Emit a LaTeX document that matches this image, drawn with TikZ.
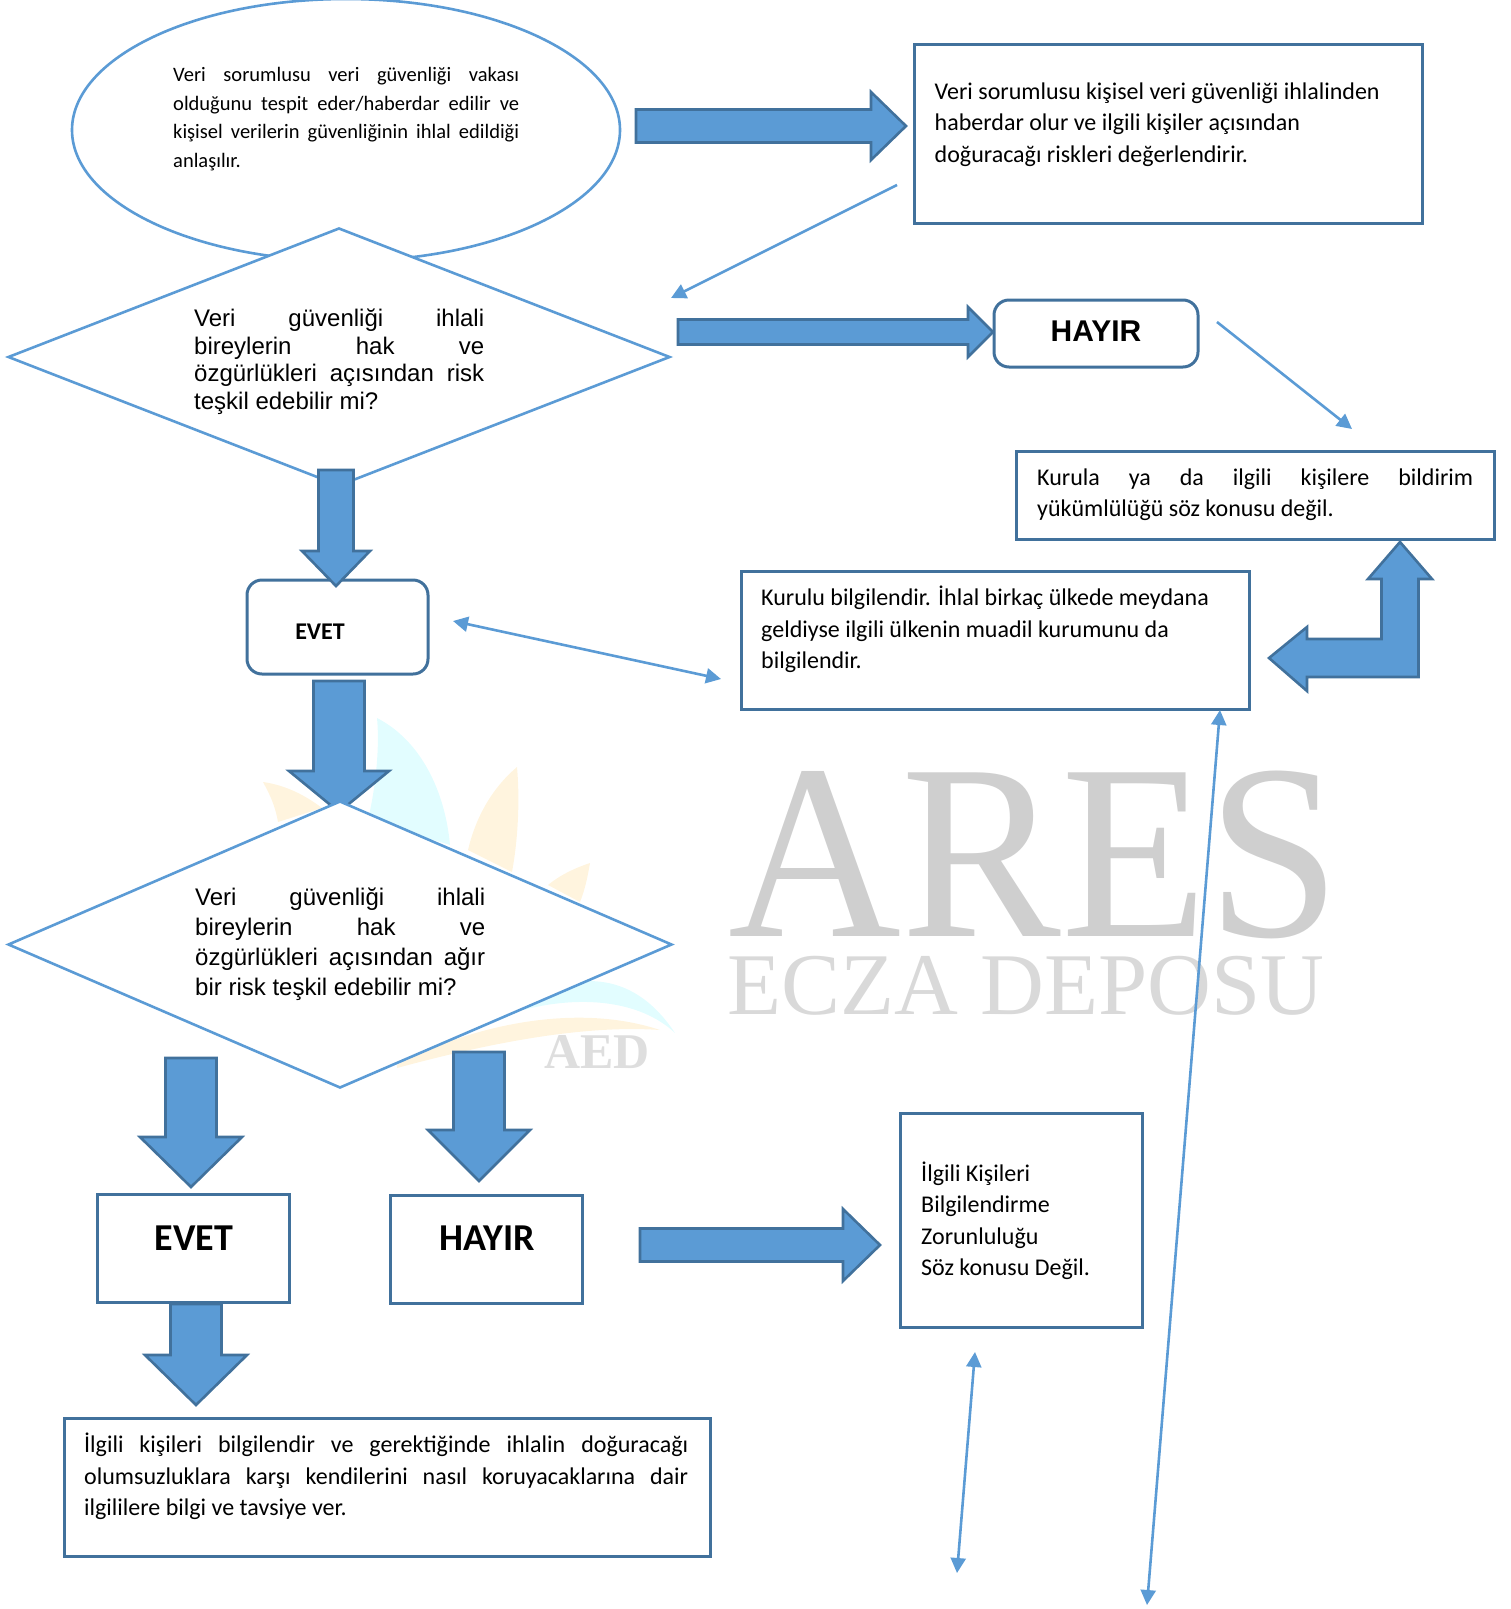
\documentclass[tikz,border=0pt]{standalone}
\usepackage{fontspec}
\setmainfont{Carlito}
\newfontfamily\arialfont{Liberation Sans}
\newfontfamily\serifwm{Liberation Serif}
\usetikzlibrary{shapes.geometric,arrows.meta,calc}

\definecolor{linelight}{HTML}{5B9BD5}
\definecolor{linedark}{HTML}{41719C}
\definecolor{petalcyan}{HTML}{E2FDFF}
\definecolor{petalorange}{HTML}{FFF4DE}

\tikzset{
    plainbox/.style={draw=linedark,line width=3pt,fill=white,inner sep=0pt,outer sep=0pt},
    softbox/.style={plainbox,rounded corners=15pt},
    decision/.style={diamond,draw=linelight,line width=2.6pt,fill=white,inner sep=0pt,outer sep=0pt},
    startnode/.style={ellipse,draw=linelight,line width=2.6pt,fill=white,inner sep=0pt,outer sep=0pt},
    bigarrow/.style={draw=linedark,line width=2.6pt,fill=linelight,line join=miter},
    thinline/.style={color=linelight,line width=2.6pt,>={Triangle[length=15pt,width=15pt]}},
    calibody/.style={anchor=north west,inner sep=0pt,align=left,font=\fontsize{24}{31.5}\selectfont},
    calijust/.style={calibody,align=justify},
    arialbody/.style={anchor=north west,inner sep=0pt,align=justify,font=\arialfont\fontsize{24}{27.5}\selectfont},
}

\newcommand{\blockarrow}[5]{
    \coordinate (base) at ($(#2)!#5!(#1)$);
    \draw[bigarrow] ($(#1)!#3!90:(#2)$) -- ($(base)!#3!90:(#2)$) -- ($(base)!#4!90:(#2)$) -- (#2)
        -- ($(base)!#4!-90:(#2)$) -- ($(base)!#3!-90:(#2)$) -- ($(#1)!#3!-90:(#2)$) -- cycle;
}

\tolerance=10000
\hyphenpenalty=10000

\begin{document}
\begin{tikzpicture}[x=1pt,y=-1pt]
    \useasboundingbox (0,0) rectangle (1510,1609);

    % watermark
    \node[inner sep=0pt,text=black!19,xscale=0.958,font=\serifwm\fontsize{250}{250}\selectfont] at (1034.5,855) (wmares) {ARES};
    \node[inner sep=0pt,text=black!15,xscale=1.005,font=\serifwm\fontsize{88}{88}\selectfont] at (1026,986) (wmecza) {ECZA DEPOSU};
    \fill[petalcyan] (377,718) .. controls (420,740) and (445,790) .. (450,845) -- (368,820) .. controls (375,790) and (380,750) .. (377,718) -- cycle;
    \fill[petalorange] (263,782) .. controls (285,785) and (305,795) .. (322,808) -- (278,822) .. controls (275,805) and (270,795) .. (263,782) -- cycle;
    \fill[petalorange] (517,767) .. controls (490,790) and (475,820) .. (468,850) -- (512,872) .. controls (518,840) and (520,800) .. (517,767) -- cycle;
    \fill[petalorange] (590,863) .. controls (575,868) and (560,875) .. (548,885) -- (580,902) .. controls (585,890) and (588,875) .. (590,863) -- cycle;
    \fill[petalcyan] (523,1000) .. controls (570,975) and (630,965) .. (675,1033) .. controls (640,1000) and (580,995) .. (523,1010) -- cycle;
    \fill[petalorange] (397,1065) .. controls (460,1030) and (570,1000) .. (660,1030) .. controls (590,1025) and (500,1040) .. (397,1068) -- cycle;
    \node[inner sep=0pt,text=black!13,font=\serifwm\bfseries\fontsize{50}{50}\selectfont] at (597,1052) (wmaed) {AED};

    % shapes
    \node[startnode,minimum width=548,minimum height=262] at (346,130) (start) {};
    \node[decision,minimum width=661,minimum height=257,aspect=2.57] at (339,357) (riskq) {};
    \node[plainbox,minimum width=508,minimum height=179.5] at (1168.5,134) (assess) {};
    \node[softbox,minimum width=204,minimum height=67] at (1096,333.5) (hayira) {};
    \node[plainbox,minimum width=478,minimum height=88] at (1255,495) (noduty) {};
    \node[plainbox,minimum width=508,minimum height=138] at (995,640) (inform) {};
    \node[softbox,minimum width=181,minimum height=94] at (337.5,627) (evetb) {};
    \node[plainbox,minimum width=192.5,minimum height=108.5] at (193.5,1248.5) (evetc) {};
    \node[plainbox,minimum width=192.5,minimum height=108] at (486.5,1249) (hayirc) {};
    \node[plainbox,minimum width=242.5,minimum height=214] at (1021.5,1220) (nonotice) {};
    \node[plainbox,minimum width=646,minimum height=138] at (387,1487) (advise) {};

    % ends of the block arrows
    \coordinate (a1) at (636,126);
    \coordinate (a2) at (906,126);
    \coordinate (b1) at (678,332);
    \coordinate (b2) at (993,332);
    \coordinate (c1) at (336,470);
    \coordinate (c2) at (336,586);
    \coordinate (d1) at (339,681);
    \coordinate (d2) at (339,812);
    \coordinate (e1) at (191,1058);
    \coordinate (e2) at (191,1187);
    \coordinate (f1) at (479,1052);
    \coordinate (f2) at (479,1181);
    \coordinate (g1) at (640,1245);
    \coordinate (g2) at (880,1245);
    \coordinate (h1) at (196,1304);
    \coordinate (h2) at (196,1405);

    \blockarrow{a1}{a2}{16.5pt}{34pt}{35pt}
    \blockarrow{d1}{d2}{25.5pt}{50pt}{41pt}
    \node[decision,minimum width=663,minimum height=286,aspect=2.32] at (340,944.5) (severeq) {};
    \blockarrow{b1}{b2}{12.5pt}{25pt}{25pt}
    \blockarrow{c1}{c2}{17.5pt}{34pt}{35pt}
    \blockarrow{e1}{e2}{25.5pt}{51pt}{50pt}
    \blockarrow{f1}{f2}{25.5pt}{51pt}{51pt}
    \blockarrow{g1}{g2}{16.5pt}{36pt}{37pt}
    \blockarrow{h1}{h2}{25.5pt}{51pt}{50pt}
    \draw[bigarrow] (1400,542) -- (1432,579) -- (1418.5,579) -- (1418.5,677) -- (1307,677) -- (1307,691) -- (1269,658)
        -- (1307,627) -- (1307,639) -- (1381.5,639) -- (1381.5,579) -- (1368,579) -- cycle;

    % thin connectors
    \coordinate (t1) at (897,185);
    \coordinate (t2) at (671,298);
    \coordinate (u1) at (1217,322);
    \coordinate (u2) at (1352,429);
    \coordinate (v1) at (453,621);
    \coordinate (v2) at (721,679);
    \coordinate (w1) at (975,1352);
    \coordinate (w2) at (957,1573);
    \coordinate (z1) at (1220,710);
    \coordinate (z2) at (1147,1605);
    \path[thinline]
    (t1) edge [->] (t2)
    (u1) edge [->] (u2)
    (v1) edge [<->] (v2)
    (w1) edge [<->] (w2)
    (z1) edge [<->] (z2)
    ;

    % texts
    \node[calijust,text width=346,font=\fontsize{20.5}{28.5}\selectfont] at (173,67.5) (starttext) {Veri sorumlusu veri güvenliği vakası\linebreak olduğunu tespit eder/haberdar edilir ve\linebreak kişisel verilerin güvenliğinin ihlal edildiği\linebreak anlaşılır.};
    \node[arialbody,text width=290] at (194,309) (riskqtext) {Veri güvenliği ihlali\linebreak bireylerin hak ve\linebreak özgürlükleri açısından risk\linebreak teşkil edebilir mi?};
    \node[arialbody,text width=290,font=\arialfont\fontsize{24}{29.7}\selectfont] at (195,888) (severeqtext) {Veri güvenliği ihlali\linebreak bireylerin hak ve\linebreak özgürlükleri açısından ağır\linebreak bir risk teşkil edebilir mi?};
    \node[calibody] at (934.5,82.5) (assesstext) {Veri sorumlusu kişisel veri güvenliği ihlalinden\\haberdar olur ve ilgili kişiler açısından\\doğuracağı riskleri değerlendirir.};
    \node[calijust,text width=436] at (1037,468.5) (nodutytext) {Kurula ya da ilgili kişilere bildirim\linebreak yükümlülüğü söz konusu değil.};
    \node[calibody] at (761,586) (informtext) {Kurulu bilgilendir. İhlal birkaç ülkede meydana\\geldiyse ilgili ülkenin muadil kurumunu da\\bilgilendir.};
    \node[calibody] at (921,1161.5) (nonoticetext) {İlgili Kişileri\\Bilgilendirme\\Zorunluluğu\\Söz konusu Değil.};
    \node[calijust,text width=604] at (84,1433) (advisetext) {İlgili kişileri bilgilendir ve gerektiğinde ihlalin doğuracağı\linebreak olumsuzluklara karşı kendilerini nasıl koruyacaklarına dair\linebreak ilgililere bilgi ve tavsiye ver.};
    \node[inner sep=0pt,font=\arialfont\bfseries\fontsize{30}{30}\selectfont] at (1096,331) (hayiratext) {HAYIR};
    \node[inner sep=0pt,font=\bfseries\fontsize{24}{24}\selectfont] at (320,632) (evetbtext) {EVET};
    \node[inner sep=0pt,font=\bfseries\fontsize{38}{38}\selectfont] at (194,1238) (evetctext) {EVET};
    \node[inner sep=0pt,font=\bfseries\fontsize{38}{38}\selectfont] at (487,1238) (hayirctext) {HAYIR};
\end{tikzpicture}
\end{document}
